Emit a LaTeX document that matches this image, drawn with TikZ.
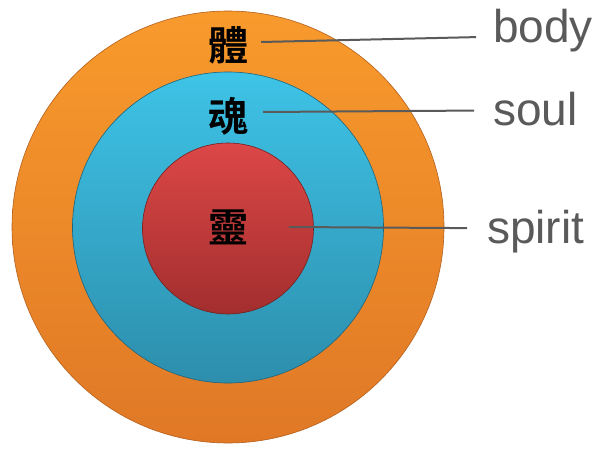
\documentclass[tikz,border=0pt]{standalone}
\usepackage{fontspec}
\setmainfont{Liberation Sans}
\newfontfamily\cjk{Noto Sans CJK TC}[BoldFont=* Bold]
\usetikzlibrary{calc}
\definecolor{bodytop}{HTML}{F89A2C}
\definecolor{bodybot}{HTML}{E07826}
\definecolor{soultop}{HTML}{3EC3E7}
\definecolor{soulbot}{HTML}{2D8EAC}
\definecolor{spirtop}{HTML}{DC4747}
\definecolor{spirbot}{HTML}{A32E2E}
\definecolor{leadgray}{HTML}{5A5A5A}
\tikzset{
  hanzi/.style={inner sep=0pt, font=\cjk\bfseries\fontsize{40}{40}\selectfont},
  word/.style={anchor=base west, inner sep=0pt, text=leadgray, font=\fontsize{46}{46}\selectfont},
  leader/.style={draw=leadgray, line width=2pt}
}

\begin{document}
\begin{tikzpicture}[x=1pt, y=1pt]
		%%%%% START %%%%%
		\useasboundingbox[fill=white] (0, 0) rectangle (596, 448);
		
		% rings
		\shade[top color=bodytop, bottom color=bodybot, draw=bodybot!80!black, line width=0.6pt] (228, 221) circle (216pt);
		\shade[top color=soultop, bottom color=soulbot, draw=soulbot!70!black, line width=0.6pt] (228, 220.5) circle (155.5pt);
		\shade[top color=spirtop, bottom color=spirbot, draw=spirbot!70!black, line width=0.6pt] (228, 219.5) circle (85.5pt);
		
		% characters
		\node[hanzi] (tb) at (228, 403) {體};
		\node[hanzi] (ts) at (228, 332) {魂};
		\node[hanzi] (tp) at (228, 221) {靈};
		
		% words
		\node[word] (eb) at (493, 405) {body};
		\node[word] (es) at (493, 323) {soul};
		\node[word] (ep) at (487, 205) {spirit};
		
		\draw[leader] ($(tb.east)+(13, 3)$) -- ($(eb.west)+(-17, -6)$);
		\draw[leader] ($(ts.east)+(15, 4)$) -- ($(es.west)+(-19, -2)$);
		\draw[leader] ($(tp.east)+(41, 0)$) -- ($(ep.west)+(-20, 3)$);
		
		%%%%% END %%%%%
	\end{tikzpicture}
\end{document}
